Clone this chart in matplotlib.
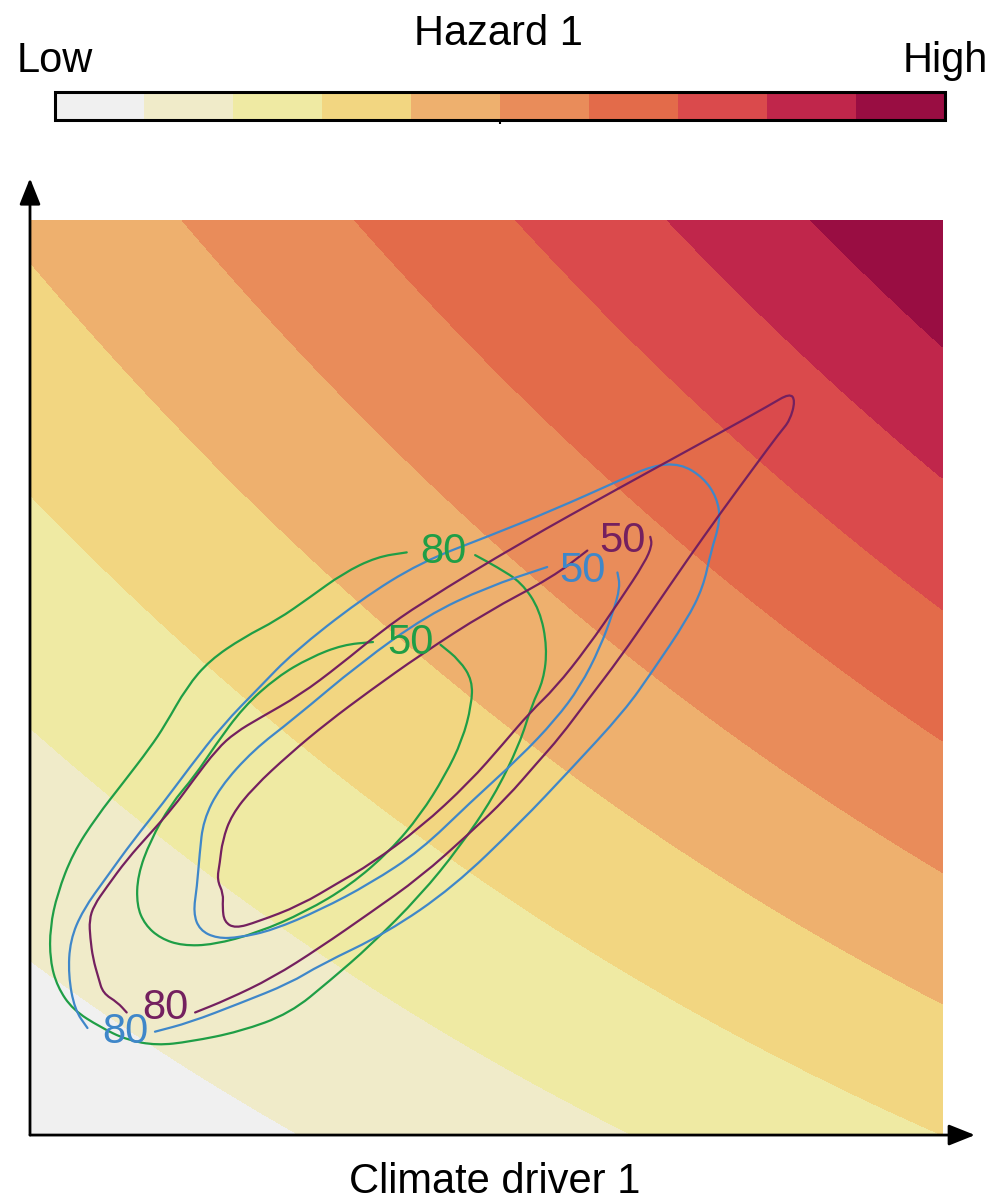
import matplotlib
matplotlib.use("Agg")
import matplotlib.pyplot as plt
from matplotlib.path import Path
from matplotlib.patches import PathPatch
import numpy as np

plt.rcParams["font.family"] = ["Liberation Sans", "DejaVu Sans"]

# --- hazard level read along the bottom and top edges of the driver space ---
hazard_u = [0, 50, 100]                 # climate driver 1 position
hazard_bottom = [0.25, 1.55, 3.0]       # driver 2 at its lowest
hazard_top = [4.18, 6.81, 9.96]         # driver 2 at its highest
hazard_levels = np.arange(0, 11)
band_colors = ["#f0f0f0", "#f0ebc9", "#efeaa3", "#f2d681", "#eeb06e",
               "#e98c5a", "#e36b4a", "#da4a4c", "#c0264b", "#990d42"]

# --- probability contours of the drivers (vertices) ---
green80_x = [41.3, 38.0, 34.3, 30.7, 27.1, 23.4, 19.7, 17.2, 14.8, 13.2, 10.2, 7.3, 4.7, 3.0, 2.2,
             2.2, 3.0, 4.7, 7.7, 10.6, 13.9, 17.5, 23.0, 28.5, 32.9, 37.3, 42.8, 47.1, 50.8, 53.7,
             55.0, 56.3, 56.7, 55.9, 53.9, 51.2, 48.8]
green80_y = [63.7, 63.2, 61.4, 58.8, 56.3, 54.4, 51.9, 49.0, 44.8, 42.4, 38.5, 34.8, 30.8, 26.4, 22.7,
             19.1, 16.2, 13.7, 11.8, 10.4, 9.8, 10.2, 11.3, 13.3, 16.9, 20.7, 26.2, 31.5, 36.9, 42.8,
             47.0, 49.7, 53.3, 57.4, 60.4, 62.1, 63.4]
green50_x = [37.6, 34.3, 30.7, 27.1, 23.4, 20.3, 18.1, 15.4, 13.2, 11.8, 11.7, 12.6, 14.3, 16.7,
             20.1, 24.9, 30.2, 35.1, 39.5, 42.8, 45.5, 47.4, 48.4, 48.5, 47.1, 45.0]
green50_y = [53.9, 53.6, 52.2, 50.1, 46.8, 42.6, 39.3, 36.1, 32.2, 28.4, 25.1, 23.0, 21.5, 20.7,
             20.8, 22.1, 24.4, 27.3, 31.1, 35.0, 39.3, 43.2, 47.0, 49.7, 51.9, 53.6]
blue80_x = [6.3, 4.9, 4.2, 4.4, 5.8, 8.4, 11.3, 14.6, 17.5, 21.1, 25.2, 28.8, 36.2, 42.8, 50.1,
            57.3, 64.7, 68.3, 71.3, 73.8, 75.3, 75.7, 74.6, 73.8, 72.0, 68.3, 65.2, 59.2, 53.7,
            46.4, 39.1, 31.8, 28.5, 23.0, 17.5, 13.7]
blue80_y = [11.7, 13.7, 17.5, 21.3, 24.6, 28.2, 32.2, 36.3, 40.2, 44.8, 49.0, 52.7, 58.5, 62.6, 65.4,
            68.3, 71.6, 73.2, 73.4, 71.9, 69.7, 67.2, 63.6, 59.9, 56.3, 50.8, 46.4, 39.9, 34.1,
            27.1, 22.1, 18.6, 16.6, 14.4, 12.3, 11.3]
blue50_x = [56.7, 50.1, 43.5, 36.2, 28.8, 24.5, 20.8, 19.0, 18.6, 18.3, 17.9, 18.6, 20.5, 23.0,
            26.6, 31.8, 37.3, 42.8, 48.2, 53.7, 57.6, 60.3, 62.5, 63.9, 64.7, 64.4]
blue50_y = [62.1, 59.9, 56.8, 51.6, 45.4, 42.1, 38.0, 34.4, 30.8, 27.1, 24.3, 22.4, 21.5, 21.6,
            22.4, 24.6, 27.5, 31.1, 36.3, 41.3, 45.4, 49.0, 53.3, 57.1, 59.9, 61.5]
purple80_x = [10.6, 9.6, 8.0, 7.5, 6.9, 6.6, 6.5, 7.0, 8.4, 10.6, 13.2, 15.7, 17.9, 20.5, 22.5,
              25.2, 29.6, 34.0, 38.4, 42.8, 53.7, 64.7, 75.7, 81.1, 83.3, 83.9, 83.3, 82.2,
              79.3, 75.7, 72.0, 68.3, 64.7, 61.1, 58.1, 55.6, 52.3, 48.2, 42.8, 37.3, 31.8,
              26.6, 21.6, 18.1]
purple80_y = [13.4, 14.5, 15.5, 17.2, 19.3, 21.6, 23.5, 25.1, 27.1, 30.1, 33.0, 35.8, 38.8, 42.2,
              44.0, 45.6, 48.1, 51.4, 55.0, 58.1, 64.7, 70.8, 76.8, 79.8, 81.1, 80.3, 78.1, 76.8,
              72.9, 68.0, 62.8, 57.4, 52.2, 47.5, 43.5, 40.7, 36.9, 33.0, 28.2, 24.3, 20.5,
              17.2, 14.8, 13.4]
purple50_x = [61.1, 57.3, 50.1, 42.8, 37.3, 32.6, 28.5, 24.5, 22.1, 21.1, 20.8, 20.5, 21.2, 21.1,
              21.3, 22.5, 24.9, 29.6, 34.0, 37.3, 42.8, 48.2, 51.9, 54.8, 57.6, 61.1, 64.7,
              67.4, 68.2, 68.0]
purple50_y = [63.9, 61.0, 57.2, 52.5, 48.6, 45.1, 41.7, 38.0, 35.0, 32.2, 29.7, 27.9, 26.4, 24.9,
              23.3, 22.6, 23.3, 25.1, 27.7, 29.6, 33.6, 38.6, 42.8, 46.2, 48.9, 53.3, 58.5,
              62.6, 64.5, 65.4]

contour_colors = {"green": "#1f9e46", "blue": "#3f87c9", "purple": "#74205f"}
contour_lines = [
    ("green", green80_x, green80_y), ("green", green50_x, green50_y),
    ("blue", blue80_x, blue80_y), ("blue", blue50_x, blue50_y),
    ("purple", purple80_x, purple80_y), ("purple", purple50_x, purple50_y),
]
# label text and position of the gap it sits in
contour_labels = [
    ("green", "80", 45.3, 63.7), ("green", "50", 41.7, 53.8),
    ("blue", "80", 10.5, 11.3), ("blue", "50", 60.6, 61.7),
    ("purple", "80", 14.8, 13.9), ("purple", "50", 65.0, 64.9),
]


def smooth_path(xs, ys):
    # quadratic b-spline through the traced vertices (vertices act as control points)
    pts = np.column_stack([xs, ys])
    mids = (pts[:-1] + pts[1:]) / 2
    verts = [pts[0], mids[0]]
    codes = [Path.MOVETO, Path.LINETO]
    for i in range(1, len(pts) - 1):
        verts += [pts[i], mids[i]]
        codes += [Path.CURVE3, Path.CURVE3]
    verts.append(pts[-1])
    codes.append(Path.LINETO)
    return Path(verts, codes)


# --- hazard field: quadratic along driver 1, linear along driver 2 ---
grid = np.linspace(0, 100, 401)
G1, G2 = np.meshgrid(grid, grid)
bottom_row = np.polyval(np.polyfit(hazard_u, hazard_bottom, 2), grid)
top_row = np.polyval(np.polyfit(hazard_u, hazard_top, 2), grid)
H = bottom_row[None, :] * (1 - G2 / 100) + top_row[None, :] * (G2 / 100)

fig = plt.figure(figsize=(10, 12.02), dpi=100)
ax = fig.add_axes([0.03, 0.0557, 0.945, 0.796])

cf = ax.contourf(G1, G2, H, levels=hazard_levels, colors=band_colors)

for name, xs, ys in contour_lines:
    ax.add_patch(PathPatch(smooth_path(xs, ys), fill=False,
                           edgecolor=contour_colors[name], lw=1.6, capstyle="round"))
for name, txt, lx, ly in contour_labels:
    ax.text(lx, ly, txt, color=contour_colors[name], fontsize=30,
            ha="center", va="center")

ax.set_xlim(0, 103.6)
ax.set_ylim(0, 104.6)
ax.set_xticks([])
ax.set_yticks([])
for sp in ax.spines.values():
    sp.set_visible(False)

arrow = dict(arrowstyle="-|>,head_length=0.8,head_width=0.32", lw=2, color="black",
             shrinkA=0, shrinkB=0, mutation_scale=20)
ax.annotate("", xy=(1, 0), xytext=(0, 0), xycoords="axes fraction", arrowprops=arrow)
ax.annotate("", xy=(0, 1), xytext=(0, 0), xycoords="axes fraction", arrowprops=arrow)

fig.text(0.495, 0.0075, "Climate driver 1", fontsize=30, ha="center", va="baseline")

# --- colour bar ---
cax = fig.add_axes([0.055, 0.9002, 0.89, 0.0233])
cb = fig.colorbar(cf, cax=cax, orientation="horizontal")
cb.set_ticks([5])
cb.ax.tick_params(length=3, width=1.5, labelbottom=False)
cb.outline.set_linewidth(2.2)

fig.text(0.498, 0.9626, "Hazard 1", fontsize=30, ha="center", va="baseline")
fig.text(0.055, 0.9401, "Low", fontsize=30, ha="center", va="baseline")
fig.text(0.945, 0.9401, "High", fontsize=30, ha="center", va="baseline")

fig.savefig("out.png", dpi=100)
